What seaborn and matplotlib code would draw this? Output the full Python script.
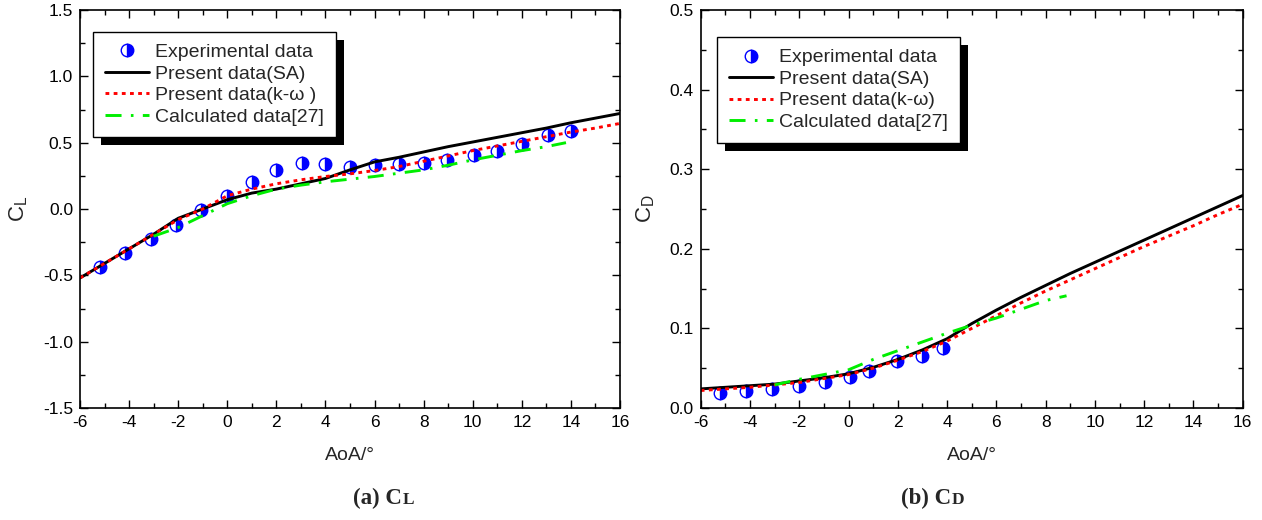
import numpy as np
import pandas as pd
import matplotlib
matplotlib.use("Agg")
import matplotlib.pyplot as plt
import seaborn as sns
from matplotlib.patches import Rectangle
from matplotlib.transforms import IdentityTransform
from matplotlib.ticker import MultipleLocator

# ---------------- data ----------------
# (a) lift coefficient
cl_exp_aoa = [-5.2, -4.15, -3.1, -2.1, -1.05, 0.0, 1.0, 2.0, 3.05, 4.0,
              5.0, 6.0, 7.0, 8.0, 8.95, 10.05, 11.0, 12.0, 13.05, 14.0]
cl_exp = [-0.44, -0.335, -0.225, -0.12, -0.005, 0.10, 0.20, 0.295, 0.345, 0.34,
          0.32, 0.335, 0.34, 0.35, 0.37, 0.41, 0.435, 0.49, 0.555, 0.59]

cl_sa_aoa = [-6, -5, -4, -3, -2, -1, 0, 1, 2, 3, 4, 5, 6, 7, 8, 9, 10, 11, 12, 13, 14, 15, 16]
cl_sa = [-0.52, -0.41, -0.30, -0.19, -0.07, 0.0, 0.07, 0.12, 0.15, 0.19, 0.23, 0.295, 0.355,
         0.39, 0.43, 0.47, 0.505, 0.54, 0.575, 0.61, 0.65, 0.685, 0.72]

cl_kw_aoa = [-6, -5, -4, -3, -2, -1, 0, 1, 2, 3, 4, 5, 6, 7, 8, 9, 10, 11, 12, 13, 14, 15, 16]
cl_kw = [-0.52, -0.41, -0.30, -0.19, -0.08, 0.0, 0.10, 0.15, 0.19, 0.22, 0.245, 0.265, 0.29,
         0.32, 0.36, 0.40, 0.44, 0.475, 0.51, 0.545, 0.58, 0.61, 0.645]

cl_calc_aoa = [-3, -2, -1, 0, 1, 2, 3, 4, 5, 6, 7, 8, 9, 10, 11, 12, 13, 13.8]
cl_calc = [-0.205, -0.14, -0.05, 0.04, 0.10, 0.15, 0.18, 0.205, 0.225, 0.245, 0.27, 0.295,
           0.33, 0.37, 0.405, 0.44, 0.47, 0.50]

# (b) drag coefficient
cd_exp_aoa = [-5.2, -4.15, -3.1, -2.0, -0.95, 0.05, 0.85, 1.95, 3.0, 3.85]
cd_exp = [0.019, 0.021, 0.024, 0.028, 0.033, 0.039, 0.046, 0.059, 0.065, 0.075]

cd_sa_aoa = [-6, -5, -4, -3, -2, -1, 0, 1, 2, 3, 4, 5, 6, 7, 8, 9, 10, 11, 12, 13, 14, 15, 16]
cd_sa = [0.024, 0.026, 0.028, 0.030, 0.034, 0.038, 0.043, 0.051, 0.061, 0.073, 0.087, 0.106,
         0.123, 0.139, 0.154, 0.169, 0.183, 0.197, 0.211, 0.225, 0.239, 0.253, 0.267]

cd_kw_aoa = [-6, -5, -4, -3, -2, -1, 0, 1, 2, 3, 4, 5, 6, 7, 8, 9, 10, 11, 12, 13, 14, 15, 16]
cd_kw = [0.022, 0.024, 0.026, 0.029, 0.032, 0.037, 0.042, 0.050, 0.060, 0.071, 0.084, 0.100,
         0.116, 0.132, 0.147, 0.161, 0.175, 0.189, 0.203, 0.216, 0.229, 0.243, 0.256]

cd_calc_aoa = [-3, -2, -1, 0, 1, 2, 3, 4, 5, 6, 7, 8, 8.85]
cd_calc = [0.029, 0.036, 0.042, 0.048, 0.061, 0.072, 0.083, 0.094, 0.104, 0.113, 0.124, 0.135, 0.141]

labels = ["Experimental data", "Present data(SA)", "Present data(k-\u03c9 )", "Calculated data[27]"]
labels_b = ["Experimental data", "Present data(SA)", "Present data(k-\u03c9)", "Calculated data[27]"]

# ---------------- style ----------------
sns.set_style("ticks")
plt.rcParams["font.family"] = ["Liberation Sans", "DejaVu Sans"]
plt.rcParams["mathtext.default"] = "regular"
plt.rcParams["axes.edgecolor"] = "black"
plt.rcParams["axes.linewidth"] = 1.2

W, H = 1262, 520
fig = plt.figure(figsize=(W / 100, H / 100), dpi=100)
ax1 = fig.add_axes([80 / W, (H - 408) / H, 540 / W, 398 / H])
ax2 = fig.add_axes([700.7 / W, (H - 408) / H, 542 / W, 398 / H])

LW = 2.1


def draw(ax, ea, ev, sa_x, sa_y, kw_x, kw_y, ca_x, ca_y, labs):
    sns.lineplot(x=ea, y=ev, ax=ax, color="blue", linestyle="", marker="o",
                 markersize=9, fillstyle="right", markerfacecoloralt="white",
                 markeredgecolor="blue", markeredgewidth=1.0, label=labs[0],
                 estimator=None, sort=False, legend=False)
    sns.lineplot(x=sa_x, y=sa_y, ax=ax, color="black", linewidth=LW, label=labs[1],
                 estimator=None, sort=False, legend=False)
    sns.lineplot(x=kw_x, y=kw_y, ax=ax, color="red", linewidth=LW, linestyle=(0, (1.3, 1.5)),
                 label=labs[2], estimator=None, sort=False, legend=False)
    sns.lineplot(x=ca_x, y=ca_y, ax=ax, color="#00ee00", linewidth=LW,
                 linestyle=(0, (5.5, 3.2, 0.9, 3.2)), label=labs[3],
                 estimator=None, sort=False, legend=False)


draw(ax1, cl_exp_aoa, cl_exp, cl_sa_aoa, cl_sa, cl_kw_aoa, cl_kw, cl_calc_aoa, cl_calc, labels)
draw(ax2, cd_exp_aoa, cd_exp, cd_sa_aoa, cd_sa, cd_kw_aoa, cd_kw, cd_calc_aoa, cd_calc, labels_b)

ax1.set_xlim(-6, 16)
ax1.set_ylim(-1.5, 1.5)
ax2.set_xlim(-6, 16)
ax2.set_ylim(0.0, 0.5)
for ax in (ax1, ax2):
    ax.xaxis.set_major_locator(MultipleLocator(2))
    ax.xaxis.set_minor_locator(MultipleLocator(1))
    ax.xaxis.set_major_formatter(matplotlib.ticker.FormatStrFormatter("%d"))
    ax.tick_params(which="both", direction="in", top=True, right=True,
                   labeltop=False, labelright=False, colors="black", width=1.0)
    ax.tick_params(which="major", length=6, labelsize=12.5, pad=5)
    ax.tick_params(which="minor", length=3.5)
    for s in ax.spines.values():
        s.set_visible(True)
        s.set_color("black")
        s.set_linewidth(1.2)
    ax.set_xlabel("AoA/\u00b0", fontsize=14)

ax1.yaxis.set_major_locator(MultipleLocator(0.5))
ax1.yaxis.set_minor_locator(MultipleLocator(0.25))
ax1.yaxis.set_major_formatter(matplotlib.ticker.FormatStrFormatter("%.1f"))
ax2.yaxis.set_major_locator(MultipleLocator(0.1))
ax2.yaxis.set_minor_locator(MultipleLocator(0.05))
ax2.yaxis.set_major_formatter(matplotlib.ticker.FormatStrFormatter("%.1f"))

ax1.set_ylabel(r"C$_{L}$", fontsize=16)
ax2.set_ylabel(r"C$_{D}$", fontsize=16)
ax1.yaxis.set_label_coords(-0.093, 0.5)
ax2.yaxis.set_label_coords(-0.081, 0.5)
ax1.xaxis.set_label_coords(0.5, -0.098)
ax2.xaxis.set_label_coords(0.5, -0.098)

legs = []
for ax, anchor in ((ax1, (0.024, 0.945)), (ax2, (0.030, 0.932))):
    leg = ax.legend(loc="upper left", bbox_to_anchor=anchor, fontsize=14, frameon=True,
                    fancybox=False, shadow=False, numpoints=1, handlelength=2.3,
                    handletextpad=0.3, labelspacing=0.2, borderpad=0.6,
                    borderaxespad=0.0, framealpha=1.0, facecolor="white")
    leg.get_frame().set_edgecolor("black")
    leg.get_frame().set_linewidth(1.0)
    leg.set_zorder(10)
    legs.append((ax, leg))

fig.canvas.draw()
for ax, leg in legs:
    bb = leg.get_window_extent()
    sh = Rectangle((bb.x0 + 8, bb.y0 - 8), bb.width, bb.height, transform=IdentityTransform(),
                   facecolor="black", edgecolor="none", zorder=9, clip_on=False)
    ax.add_artist(sh)

cap_y = 1 - 498 / H
fig.text(402 / W, cap_y, "(a) C", ha="right", va="center", fontsize=16.5, fontweight="bold",
         family=["Liberation Serif", "DejaVu Serif"])
fig.text(403 / W, cap_y - 0.004, "L", ha="left", va="center", fontsize=12.5, fontweight="bold",
         family=["Liberation Serif", "DejaVu Serif"])
fig.text(951 / W, cap_y, "(b) C", ha="right", va="center", fontsize=16.5, fontweight="bold",
         family=["Liberation Serif", "DejaVu Serif"])
fig.text(952 / W, cap_y - 0.004, "D", ha="left", va="center", fontsize=12.5, fontweight="bold",
         family=["Liberation Serif", "DejaVu Serif"])

fig.savefig("out.png", dpi=100)
